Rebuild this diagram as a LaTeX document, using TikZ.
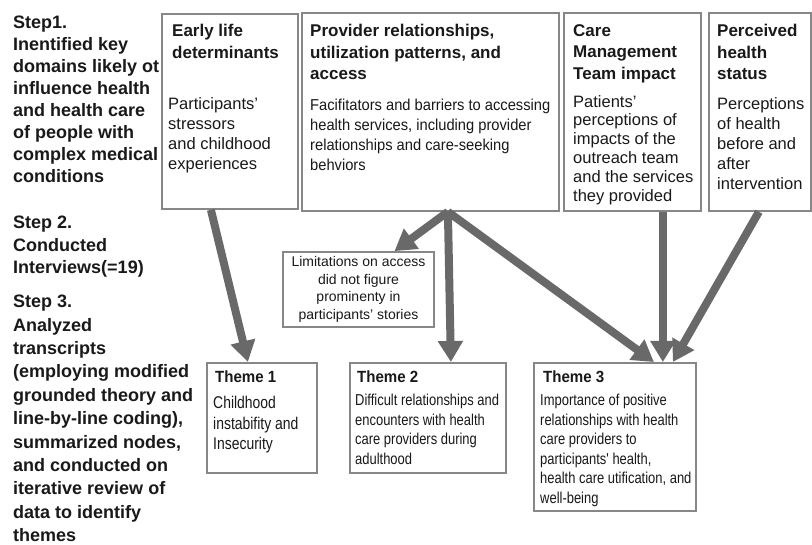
\documentclass[tikz,border=0pt]{standalone}
\usepackage{fontspec}
\setmainfont{Liberation Sans}
\newfontfamily\condA[FakeStretch=0.82]{Liberation Sans}
\newfontfamily\condB[FakeStretch=0.93]{Liberation Sans}
\usetikzlibrary{arrows.meta}
\definecolor{boxgray}{RGB}{135,135,135}
\definecolor{arrgray}{RGB}{105,105,105}
\definecolor{txt}{RGB}{25,25,25}
\tikzset{
  box/.style={draw=boxgray, line width=1.8pt, fill=white, anchor=north west, inner sep=0pt},
  steptext/.style={anchor=north west, inner sep=0pt, align=left, text=txt, font=\fontsize{18}{22}\bfseries\selectfont},
  head/.style={anchor=north west, inner sep=0pt, align=left, text=txt, font=\fontsize{17}{21.5}\bfseries\selectfont},
  bodytext/.style={anchor=north west, inner sep=0pt, align=left, text=txt, font=\fontsize{16.5}{20}\selectfont},
  themehead/.style={anchor=north west, inner sep=0pt, align=left, text=txt, font=\condB\fontsize{16.2}{19}\bfseries\selectfont},
  themebody/.style={anchor=north west, inner sep=0pt, align=left, text=txt, font=\condA\fontsize{15.8}{19.5}\selectfont},
  bigarrow/.style={draw=arrgray, line width=8pt, -{Triangle[width=24pt,length=21pt]}}
}
\begin{document}
\begin{tikzpicture}[x=1pt,y=-1pt]
\useasboundingbox (0,0) rectangle (812,545);

% left step texts
\node[steptext] (s1) at (13,16) {Step1.\\Inentified key\\domains likely ot\\influence health\\and health care\\of people with\\complex medical\\conditions};
\node[steptext, font=\fontsize{18}{22.5}\bfseries\selectfont] (s2) at (13,216) {Step 2.\\Conducted\\Interviews(=19)};
\node[steptext, font=\fontsize{18}{23.4}\bfseries\selectfont] (s3) at (13,295) {Step 3.\\Analyzed\\transcripts\\(employing modified\\grounded theory and\\line-by-line coding),\\summarized nodes,\\and conducted on\\iterative review of\\data to identify\\themes};

% top boxes
\node[box, minimum width=136pt, minimum height=195pt] (b1) at (161,13) {};
\node[box, minimum width=257pt, minimum height=198pt] (b2) at (301,12) {};
\node[box, minimum width=137pt, minimum height=198pt] (b3) at (563,12) {};
\node[box, minimum width=102pt, minimum height=198pt] (b4) at (708,12) {};

\node[head] (h1) at (172,24) {Early life\\determinants};
\node[bodytext] (d1) at (168,97) {Participants'\\stressors\\and childhood\\experiences};

\node[head] (h2) at (310,24) {Provider relationships,\\utilization patterns, and\\access};
\node[bodytext, font=\condB\fontsize{15.8}{20}\selectfont] (d2) at (310,99) {Facifitators and barriers to accessing\\health services, including provider\\relationships and care-seeking\\behviors};

\node[head] (h3) at (573,24) {Care\\Management\\Team impact};
\node[bodytext, font=\fontsize{16.5}{18.8}\selectfont] (d3) at (573,95) {Patients'\\perceptions of\\impacts of the\\outreach team\\and the services\\they provided};

\node[head] (h4) at (717,24) {Perceived\\health\\status};
\node[bodytext] (d4) at (717,97) {Perceptions\\of health\\before and\\after\\intervention};

% limitations box
\node[box, anchor=center, minimum width=151pt, minimum height=75pt, align=center, text=txt, font=\fontsize{14}{17.7}\selectfont] (lim) at (358.5,289.5) {Limitations on access\\did not figure\\prominenty in\\participants' stories};

% theme boxes
\node[box, minimum width=110pt, minimum height=110pt] (t1) at (206,362) {};
\node[box, minimum width=156pt, minimum height=110pt] (t2) at (349,362) {};
\node[box, minimum width=162pt, minimum height=148pt] (t3) at (533,362) {};

\node[themehead] (th1) at (215,371) {Theme 1};
\node[themebody, font=\condA\fontsize{17}{20.5}\selectfont] (tb1) at (213,396) {Childhood\\instabifity and\\Insecurity};
\node[themehead] (th2) at (357,371) {Theme 2};
\node[themebody] (tb2) at (355,394) {Difficult relationships and\\encounters with health\\care providers during\\adulthood};
\node[themehead] (th3) at (543,371) {Theme 3};
\node[themebody] (tb3) at (540,394) {Importance of positive\\relationships with health\\care providers to\\participants' health,\\health care utification, and\\well-being};

% arrows
\draw[bigarrow] ([xshift=-19pt]b1.south) -- ([xshift=-14pt]t1.north);
\draw[bigarrow] ([xshift=17.5pt]b2.south) -- ([xshift=36pt]lim.north);
\draw[bigarrow] ([xshift=17.5pt]b2.south) -- ([xshift=23pt]t2.north);
\draw[bigarrow] ([xshift=17.5pt]b2.south) -- ([xshift=39pt]t3.north);
\draw[bigarrow] ([xshift=30.5pt]b3.south) -- ([xshift=48pt]t3.north);
\draw[bigarrow] ([xshift=-1pt]b4.south) -- ([xshift=58pt]t3.north);
\end{tikzpicture}
\end{document}
